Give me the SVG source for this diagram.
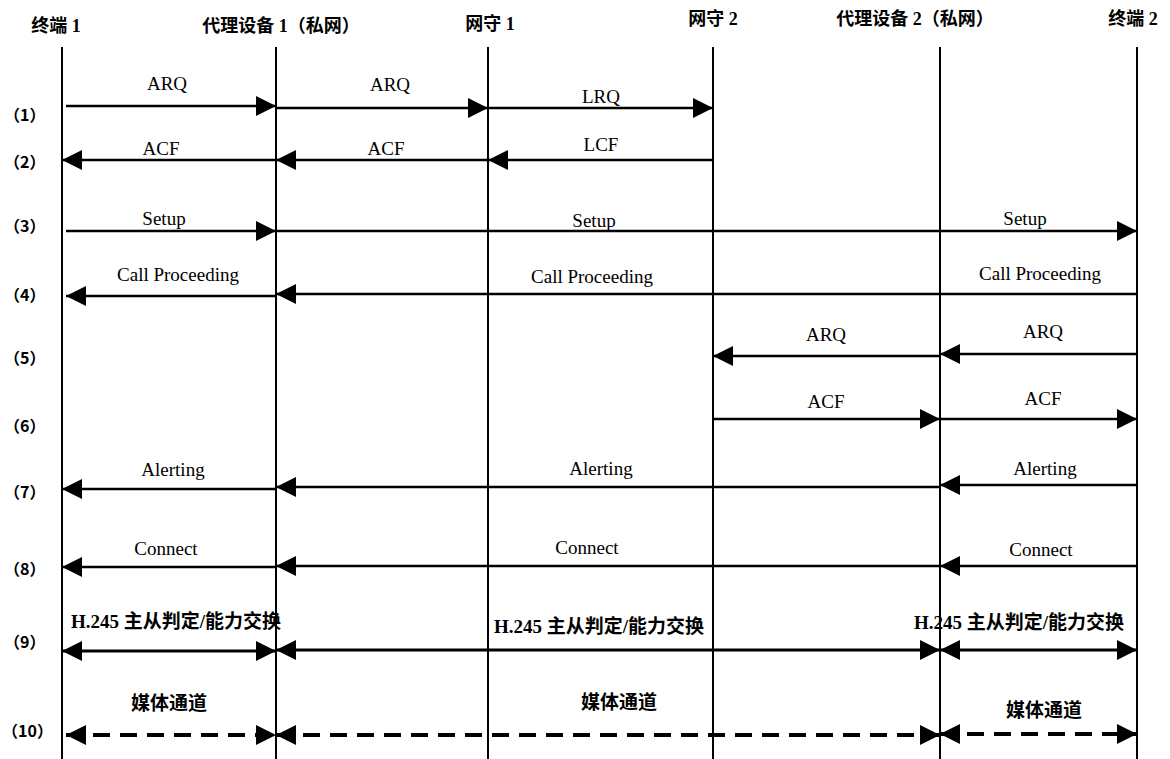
<svg xmlns="http://www.w3.org/2000/svg" width="1170" height="759" viewBox="0 0 1170 759">
<defs>
<style>
.hdr{font-family:"Liberation Serif","Noto Sans CJK SC",serif;font-size:18px;font-weight:bold;text-anchor:middle;fill:#000}
.row{font-family:"Noto Sans CJK SC",serif;font-size:16px;font-weight:bold;fill:#000}
.lbl{font-family:"Liberation Serif","Noto Sans CJK SC",serif;font-size:19px;text-anchor:middle;fill:#000}
.cjk{font-family:"Liberation Serif","Noto Sans CJK SC",serif;font-size:19px;font-weight:bold;fill:#000}
.life{stroke:#000;stroke-width:2;fill:none}
.msg{stroke:#000;stroke-width:2.5;fill:none}
.thick{stroke:#000;stroke-width:3;fill:none}
.dash{stroke:#000;stroke-width:4;fill:none;stroke-dasharray:17 10}
</style>
<marker id="ah" viewBox="0 0 20 20" refX="20" refY="10" markerWidth="20" markerHeight="20" markerUnits="userSpaceOnUse" orient="auto-start-reverse">
<path d="M0,0 L20,10 L0,20 z" fill="#000"/>
</marker>
</defs>
<rect width="1170" height="759" fill="#fff"/>

<g id="node-terminal1">
<text class="hdr" x="56" y="32">终端 1</text>
<line class="life" x1="62" y1="47" x2="62" y2="759"/>
</g>
<g id="node-proxy1">
<text class="hdr" x="281" y="32">代理设备 1（私网）</text>
<line class="life" x1="276" y1="47" x2="276" y2="759"/>
</g>
<g id="node-gk1">
<text class="hdr" x="490" y="30">网守 1</text>
<line class="life" x1="488" y1="47" x2="488" y2="759"/>
</g>
<g id="node-gk2">
<text class="hdr" x="713" y="25">网守 2</text>
<line class="life" x1="713" y1="47" x2="713" y2="759"/>
</g>
<g id="node-proxy2">
<text class="hdr" x="915" y="25">代理设备 2（私网）</text>
<line class="life" x1="940" y1="47" x2="940" y2="759"/>
</g>
<g id="node-terminal2">
<text class="hdr" x="1133" y="25">终端 2</text>
<line class="life" x1="1137" y1="47" x2="1137" y2="759"/>
</g>

<g id="steps">
<text class="row" x="4" y="121">（1）</text>
<text class="row" x="4" y="168">（2）</text>
<text class="row" x="4" y="232">（3）</text>
<text class="row" x="4" y="301">（4）</text>
<text class="row" x="4" y="364">（5）</text>
<text class="row" x="4" y="432">（6）</text>
<text class="row" x="4" y="498">（7）</text>
<text class="row" x="4" y="575">（8）</text>
<text class="row" x="4" y="648">（9）</text>
<text class="row" x="2" y="737">（10）</text>
</g>

<g id="connectors">
<line class="msg" x1="66" y1="106" x2="276" y2="106" marker-end="url(#ah)"/>
<line class="msg" x1="276" y1="108" x2="488" y2="108" marker-end="url(#ah)"/>
<line class="msg" x1="488" y1="108" x2="713" y2="108" marker-end="url(#ah)"/>
<line class="msg" x1="276" y1="160" x2="62" y2="160" marker-end="url(#ah)"/>
<line class="msg" x1="488" y1="160" x2="276" y2="160" marker-end="url(#ah)"/>
<line class="msg" x1="713" y1="160" x2="488" y2="160" marker-end="url(#ah)"/>
<line class="msg" x1="66" y1="231" x2="276" y2="231" marker-end="url(#ah)"/>
<line class="msg" x1="276" y1="231" x2="1137" y2="231" marker-end="url(#ah)"/>
<line class="msg" x1="276" y1="296" x2="66" y2="296" marker-end="url(#ah)"/>
<line class="msg" x1="1137" y1="294" x2="276" y2="294" marker-end="url(#ah)"/>
<line class="msg" x1="940" y1="356" x2="713" y2="356" marker-end="url(#ah)"/>
<line class="msg" x1="1137" y1="354" x2="940" y2="354" marker-end="url(#ah)"/>
<line class="msg" x1="713" y1="419" x2="940" y2="419" marker-end="url(#ah)"/>
<line class="msg" x1="940" y1="419" x2="1137" y2="419" marker-end="url(#ah)"/>
<line class="msg" x1="276" y1="489" x2="62" y2="489" marker-end="url(#ah)"/>
<line class="msg" x1="940" y1="487" x2="276" y2="487" marker-end="url(#ah)"/>
<line class="msg" x1="1137" y1="485" x2="940" y2="485" marker-end="url(#ah)"/>
<line class="msg" x1="276" y1="567" x2="62" y2="567" marker-end="url(#ah)"/>
<line class="msg" x1="940" y1="566" x2="276" y2="566" marker-end="url(#ah)"/>
<line class="msg" x1="1137" y1="566" x2="940" y2="566" marker-end="url(#ah)"/>
<line class="thick" x1="62" y1="651" x2="276" y2="651" marker-start="url(#ah)" marker-end="url(#ah)"/>
<line class="thick" x1="276" y1="650" x2="940" y2="650" marker-start="url(#ah)" marker-end="url(#ah)"/>
<line class="thick" x1="940" y1="650" x2="1137" y2="650" marker-start="url(#ah)" marker-end="url(#ah)"/>
<line class="dash" x1="66" y1="735" x2="276" y2="735" marker-start="url(#ah)" marker-end="url(#ah)"/>
<line class="dash" x1="276" y1="735" x2="940" y2="735" marker-start="url(#ah)" marker-end="url(#ah)"/>
<line class="dash" x1="940" y1="734" x2="1137" y2="734" marker-start="url(#ah)" marker-end="url(#ah)"/>
</g>

<g id="labels">
<text class="lbl" x="167" y="90">ARQ</text>
<text class="lbl" x="390" y="91">ARQ</text>
<text class="lbl" x="601" y="103">LRQ</text>
<text class="lbl" x="161" y="155">ACF</text>
<text class="lbl" x="386" y="155">ACF</text>
<text class="lbl" x="601" y="151">LCF</text>
<text class="lbl" x="164" y="225">Setup</text>
<text class="lbl" x="594" y="227">Setup</text>
<text class="lbl" x="1025" y="225">Setup</text>
<text class="lbl" x="178" y="281">Call Proceeding</text>
<text class="lbl" x="592" y="283">Call Proceeding</text>
<text class="lbl" x="1040" y="280">Call Proceeding</text>
<text class="lbl" x="826" y="341">ARQ</text>
<text class="lbl" x="1043" y="338">ARQ</text>
<text class="lbl" x="826" y="408">ACF</text>
<text class="lbl" x="1043" y="405">ACF</text>
<text class="lbl" x="173" y="476">Alerting</text>
<text class="lbl" x="601" y="475">Alerting</text>
<text class="lbl" x="1045" y="475">Alerting</text>
<text class="lbl" x="166" y="555">Connect</text>
<text class="lbl" x="587" y="554">Connect</text>
<text class="lbl" x="1041" y="556">Connect</text>
<text class="cjk" x="71" y="628">H.245 主从判定/能力交换</text>
<text class="cjk" x="494" y="633">H.245 主从判定/能力交换</text>
<text class="cjk" x="914" y="629">H.245 主从判定/能力交换</text>
<text class="cjk" x="131" y="710">媒体通道</text>
<text class="cjk" x="581" y="709">媒体通道</text>
<text class="cjk" x="1006" y="717">媒体通道</text>
</g>
</svg>
